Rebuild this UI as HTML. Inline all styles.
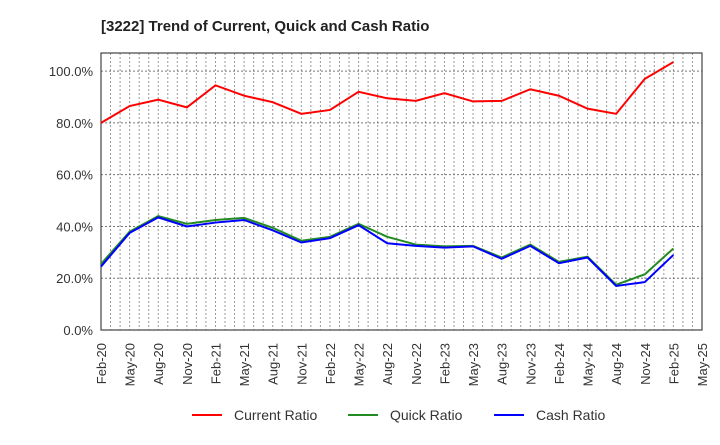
<!DOCTYPE html>
<html><head><meta charset="utf-8"><style>
body{margin:0;background:#fff;font-family:"Liberation Sans",sans-serif;}
svg text{font-family:"Liberation Sans",sans-serif;}
</style></head><body>
<svg id="chart" width="720" height="440" xmlns="http://www.w3.org/2000/svg">
<text x="101" y="31" font-size="15" font-weight="bold" fill="#222">[3222]  Trend of Current, Quick and Cash Ratio</text>
<g id="grid"></g><g id="axes"></g><g id="series"></g>
<g>
<line x1="192" y1="415" x2="222" y2="415" stroke="#ff0000" stroke-width="2"/>
<text x="234" y="420" font-size="14" fill="#333">Current Ratio</text>
<line x1="348" y1="415" x2="378" y2="415" stroke="#228b22" stroke-width="2"/>
<text x="390" y="420" font-size="14" fill="#333">Quick Ratio</text>
<line x1="494" y1="415" x2="524" y2="415" stroke="#0000ff" stroke-width="2"/>
<text x="536" y="420" font-size="14" fill="#333">Cash Ratio</text>
</g>
</svg>
<script>
const xLabels=["Feb-20","May-20","Aug-20","Nov-20","Feb-21","May-21","Aug-21","Nov-21","Feb-22","May-22","Aug-22","Nov-22","Feb-23","May-23","Aug-23","Nov-23","Feb-24","May-24","Aug-24","Nov-24","Feb-25","May-25"];
const yTicks=[0,20,40,60,80,100];
const currentRatio=[80,86.5,89,86,94.5,90.5,88,83.5,85,92,89.5,88.5,91.5,88.3,88.5,93,90.5,85.5,83.5,97,103.5];
const quickRatio=[25.5,38,44,41,42.5,43.3,39.5,34.5,36,41,36,33,32.3,32.5,28,33,26.3,28.3,17.5,21.5,31.5];
const cashRatio=[24.5,37.5,43.5,40,41.5,42.5,38.5,33.8,35.5,40.5,33.5,32.5,31.8,32.3,27.5,32.5,25.8,28,17,18.5,29];
const L=101,R=702,T=53,B=330,yMax=107;
const ns="http://www.w3.org/2000/svg";
const xs=i=>L+i*(R-L)/21;
const ys=v=>B-v/yMax*(B-T);
function mk(tag,attrs,parent){const e=document.createElementNS(ns,tag);for(const k in attrs)e.setAttribute(k,attrs[k]);document.getElementById(parent).appendChild(e);return e;}
for(let m=1;m<63;m++){const x=L+m*(R-L)/63;const g=mk('line',{x1:x,x2:x,y1:T,y2:B,stroke:'#999','stroke-dasharray':'2,2','stroke-width':1},'grid');}
yTicks.forEach(v=>{const y=ys(v);const g=mk('line',{x1:L,x2:R,y1:y,y2:y,stroke:'#777','stroke-dasharray':'2,2','stroke-width':1},'grid');
const t=mk('text',{x:L-8,y:y+5,'text-anchor':'end','font-size':13,fill:'#333'},'axes');t.textContent=v.toFixed(1)+'%';});
const fr=mk('rect',{x:L,y:T,width:R-L,height:B-T,fill:'none',stroke:'#444','stroke-width':1.2},'axes');
xLabels.forEach((s,i)=>{const x=xs(i)+5;const t=mk('text',{x:x,y:343,'text-anchor':'end','font-size':13,fill:'#333',transform:`rotate(-90 ${x} 343)`},'axes');t.textContent=s;});
[[currentRatio,'#ff0000','current-ratio-line'],[quickRatio,'#228b22','quick-ratio-line'],[cashRatio,'#0000ff','cash-ratio-line']].forEach(([d,c,n])=>{const p=mk('polyline',{points:d.map((v,i)=>xs(i)+','+ys(v)).join(' '),fill:'none',stroke:c,'stroke-width':2},'series');});
</script>
</body></html>
